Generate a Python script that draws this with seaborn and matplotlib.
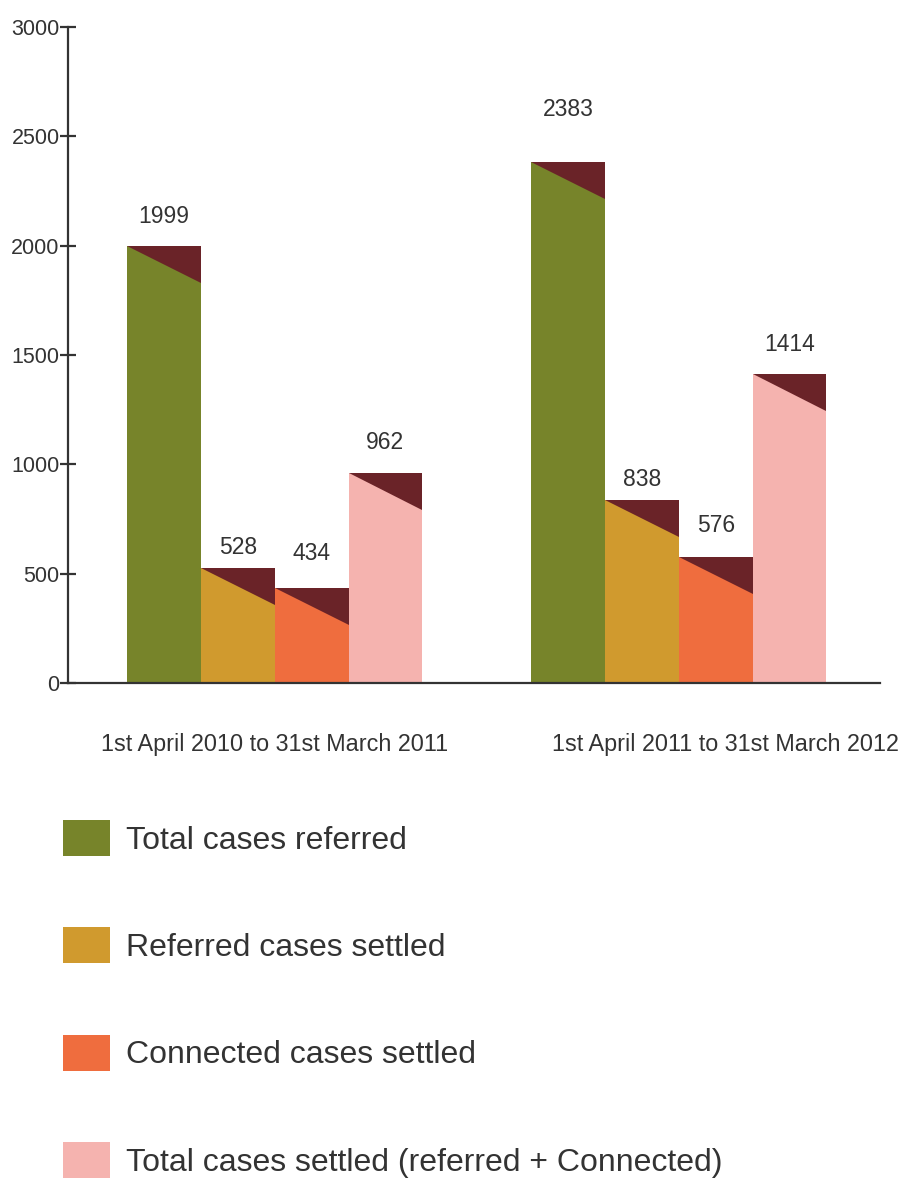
import matplotlib
matplotlib.use("Agg")
import matplotlib.pyplot as plt
from matplotlib.patches import Patch
import seaborn as sns
import pandas as pd

# ---- data ----
periods = ["1st April 2010 to 31st March 2011", "1st April 2011 to 31st March 2012"]
series = ["Total cases referred", "Referred cases settled",
          "Connected cases settled", "Total cases settled (referred + Connected)"]
total_referred = [1999, 2383]
referred_settled = [528, 838]
connected_settled = [434, 576]
total_settled = [962, 1414]
y_ticks = [0, 500, 1000, 1500, 2000, 2500, 3000]

# ---- style ----
colors = ["#77842A", "#D09A2E", "#EF6D3E", "#F5B3AF"]
maroon = "#6A2328"
text_color = "#333333"
# value label offsets above bar tops (pixels), per series per period
label_offsets = [[29, 52], [20, 20], [35, 32], [30, 29]]
period_label_shift = [0, 47]  # pixels

sns.set_style("white")
plt.rcParams["font.family"] = ["Liberation Sans", "DejaVu Sans"]

rows = []
for s, vals in zip(series, [total_referred, referred_settled, connected_settled, total_settled]):
    for p, v in zip(periods, vals):
        rows.append({"period": p, "series": s, "value": v})
df = pd.DataFrame(rows)

dpi = 100
fig = plt.figure(figsize=(9.07, 11.81), dpi=dpi)
ax = fig.add_axes([68 / 907, 1 - 683 / 1181, (880 - 68) / 907, (683 - 27) / 1181])

sns.barplot(data=df, x="period", y="value", hue="series", order=periods,
            hue_order=series, palette=colors, width=0.73, saturation=1,
            linewidth=0, legend=False, ax=ax)

ax.set_xlim(-0.512, 1.498)
ax.set_ylim(0, 3000)
ax.set_yticks(y_ticks)
ax.set_xlabel("")
ax.set_ylabel("")

px2pt = 72 / dpi
drop = 170  # data units for the dark triangle
for si, cont in enumerate(ax.containers):
    for pi, bar in enumerate(cont):
        x0 = bar.get_x()
        w = bar.get_width()
        h = bar.get_height()
        ax.fill([x0, x0 + w, x0 + w], [h, h, h - drop], color=maroon, lw=0, zorder=3)
        ax.annotate(f"{int(h)}", xy=(x0 + w / 2, h), xytext=(0, label_offsets[si][pi] * px2pt),
                    textcoords="offset points", ha="center", va="center",
                    fontsize=16.5, color=text_color)

# spines and ticks
for s in ["top", "right"]:
    ax.spines[s].set_visible(False)
for s in ["left", "bottom"]:
    ax.spines[s].set_color("#333333")
    ax.spines[s].set_linewidth(1.6)
ax.tick_params(axis="y", direction="inout", length=12, width=1.6, color="#333333",
               pad=0, labelsize=15.5, labelcolor=text_color, left=True)
ax.set_xticks([0, 1])
ax.set_xticklabels(["", ""])
ax.tick_params(axis="x", length=0)

for i, p in enumerate(periods):
    ax.annotate(p, xy=(i, 0), xycoords=ax.get_xaxis_transform(),
                xytext=(period_label_shift[i] * px2pt, -62 * px2pt), textcoords="offset points",
                ha="center", va="center", fontsize=16.8, color=text_color)

handles = [Patch(facecolor=c, edgecolor="none", label=s) for c, s in zip(colors, series)]
fs = 23.0
fig.legend(handles=handles, loc="upper left", bbox_to_anchor=(63 / 907, 1 - 820 / 1181),
           frameon=False, fontsize=fs, handlelength=1.47, handleheight=1.35,
           handletextpad=0.5, labelspacing=2.24, borderpad=0, borderaxespad=0,
           labelcolor=text_color)

fig.savefig("out.png", dpi=dpi)
